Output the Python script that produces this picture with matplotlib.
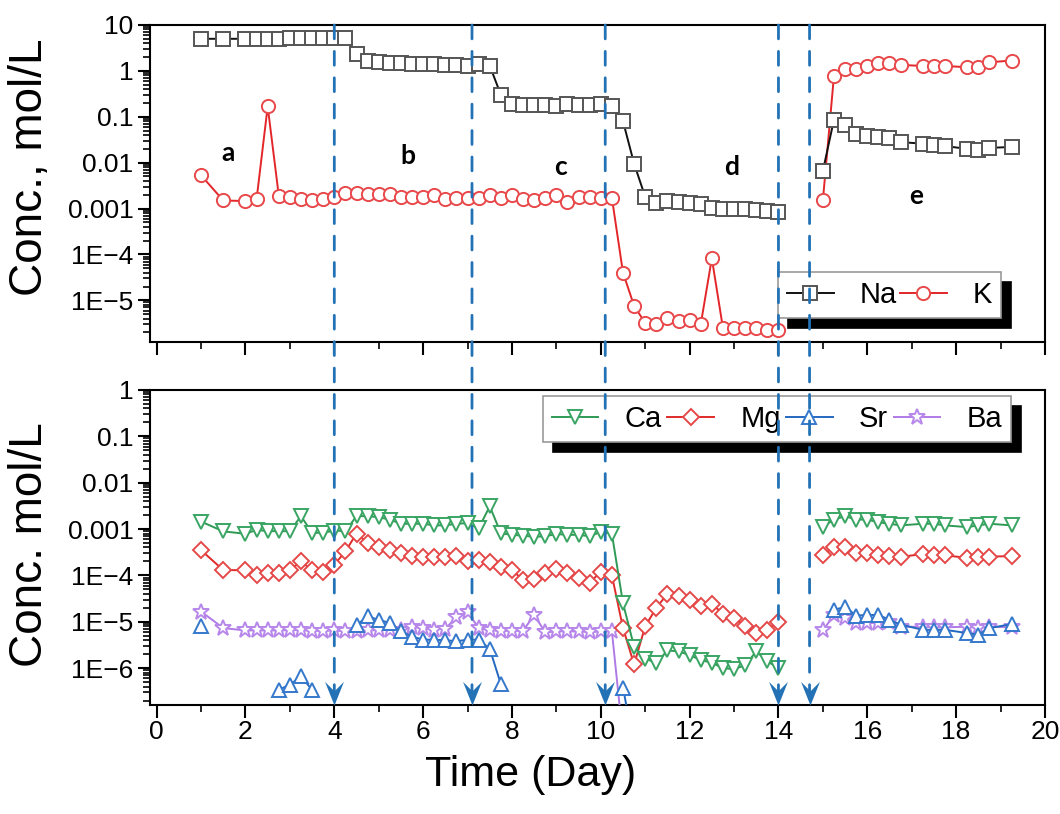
import numpy as np
import matplotlib
matplotlib.use("Agg")
import matplotlib.pyplot as plt
from matplotlib.patches import ConnectionPatch
from matplotlib.path import Path

plt.rcParams["font.family"] = ["Liberation Sans", "DejaVu Sans"]

# sampling days, stages a-d and stage e
days_ad = [1.0, 1.5, 2.0, 2.25, 2.5, 2.75, 3.0, 3.25, 3.5, 3.75, 4.0, 4.25, 4.5,
           4.75, 5.0, 5.25, 5.5, 5.75, 6.0, 6.25, 6.5, 6.75, 7.0, 7.25, 7.5, 7.75,
           8.0, 8.25, 8.5, 8.75, 9.0, 9.25, 9.5, 9.75, 10.0, 10.25, 10.5, 10.75,
           11.0, 11.25, 11.5, 11.75, 12.0, 12.25, 12.5, 12.75, 13.0, 13.25, 13.5,
           13.75, 14.0]
days_e = [15.0, 15.25, 15.5, 15.75, 16.0, 16.25, 16.5, 16.75, 17.25, 17.5, 17.75,
          18.25, 18.5, 18.75, 19.25]

na_ad = [5.0, 5.0, 5.0, 5.0, 5.0, 5.0, 5.1, 5.1, 5.1, 5.1, 5.2, 5.2, 2.3,
         1.65, 1.55, 1.5, 1.45, 1.4, 1.4, 1.38, 1.35, 1.35, 1.3, 1.4, 1.3, 0.30,
         0.19, 0.18, 0.18, 0.18, 0.17, 0.19, 0.18, 0.18, 0.19, 0.17, 0.08, 0.0095,
         0.0018, 0.00134, 0.00144, 0.0014, 0.00134, 0.00123, 0.00105, 0.001, 0.00098,
         0.00097, 0.00094, 0.00089, 0.00085]
na_e = [0.0066, 0.087, 0.065, 0.043, 0.039, 0.037, 0.035, 0.028, 0.026, 0.024,
        0.023, 0.020, 0.019, 0.021, 0.022]

k_ad = [0.0053, 0.0015, 0.00146, 0.0016, 0.168, 0.0019, 0.0018, 0.0016, 0.0015,
        0.0016, 0.0018, 0.0022, 0.0022, 0.0021, 0.0021, 0.0021, 0.0018, 0.0018,
        0.0018, 0.002, 0.0016, 0.0017, 0.0017, 0.0017, 0.002, 0.0017, 0.002,
        0.0016, 0.0015, 0.0017, 0.002, 0.0014, 0.0018, 0.0018, 0.0017, 0.0017,
        4.0e-5, 7.6e-6, 3.2e-6, 3.0e-6, 4.1e-6, 3.6e-6, 3.7e-6, 3.0e-6, 8.2e-5,
        2.5e-6, 2.5e-6, 2.5e-6, 2.5e-6, 2.3e-6, 2.3e-6]
k_e = [0.0015, 0.79, 1.1, 1.1, 1.3, 1.46, 1.46, 1.35, 1.28, 1.28, 1.28, 1.2, 1.2,
       1.54, 1.68]

ca_ad = [0.00145, 0.00089, 0.00079, 0.00096, 0.0009, 0.0009, 0.0009, 0.0019,
         0.00083, 0.00083, 0.00093, 0.0009, 0.0019, 0.0019, 0.0018, 0.0016, 0.0013,
         0.0013, 0.0013, 0.0012, 0.0012, 0.0013, 0.00134, 0.00104, 0.0031, 0.00081,
         0.00075, 0.00072, 0.00068, 0.0007, 0.00078, 0.00075, 0.00075, 0.0007,
         0.00087, 0.00079, 2.5e-5, 2.9e-6, 1.6e-6, 1.3e-6, 2.4e-6, 2.3e-6, 1.9e-6,
         1.5e-6, 1.3e-6, 1.0e-6, 0.95e-6, 1.15e-6, 2.3e-6, 1.4e-6, 1.0e-6]
ca_e = [0.00113, 0.0016, 0.0019, 0.0016, 0.0016, 0.0014, 0.0013, 0.0012, 0.0013,
        0.0013, 0.0012, 0.0011, 0.0012, 0.0013, 0.0012]

mg_ad = [3.5e-4, 1.3e-4, 1.3e-4, 1.0e-4, 1.1e-4, 1.15e-4, 1.3e-4, 2.0e-4, 1.3e-4,
         1.2e-4, 1.7e-4, 3.3e-4, 8.0e-4, 5.0e-4, 4.2e-4, 3.6e-4, 3.0e-4, 2.6e-4,
         2.5e-4, 2.5e-4, 2.5e-4, 2.6e-4, 2.0e-4, 2.2e-4, 1.9e-4, 1.5e-4, 1.3e-4,
         8.0e-5, 8.2e-5, 1.15e-4, 1.4e-4, 1.15e-4, 8.8e-5, 7.0e-5, 1.2e-4, 1.0e-4,
         7.3e-6, 1.2e-6, 8e-6, 2.0e-5, 4e-5, 3.6e-5, 3e-5, 2.2e-5, 2.4e-5, 1.5e-5,
         1.2e-5, 8e-6, 5.8e-6, 6.8e-6, 1.0e-5]
mg_e = [2.8e-4, 4.2e-4, 4.2e-4, 3.1e-4, 3.1e-4, 2.8e-4, 2.6e-4, 2.5e-4, 2.9e-4,
        2.8e-4, 2.7e-4, 2.4e-4, 2.5e-4, 2.55e-4, 2.6e-4]

nan = np.nan
sr_ad = [8e-6, nan, nan, nan, nan, 3.4e-7, 4.4e-7, 6.6e-7, 3.4e-7, nan, nan, nan,
         8.5e-6, 1.3e-5, 1.1e-5, 9.4e-6, 6.2e-6, 4.8e-6, 4.1e-6, 4.1e-6, 4.0e-6,
         3.8e-6, 4.1e-6, 4.1e-6, 2.6e-6, 4.5e-7, nan, nan, nan, nan, nan, nan, nan,
         nan, nan, nan, 3.8e-7, 2e-8, nan, nan, nan, nan, nan, nan, nan, nan, nan,
         nan, nan, nan, nan]
sr_e = [nan, 1.8e-5, 2.1e-5, 1.36e-5, 1.4e-5, 1.4e-5, 1.1e-5, 8.7e-6, 6.7e-6,
        6.7e-6, 6.7e-6, 5.7e-6, 5.3e-6, 7.3e-6, 8.9e-6]

ba_ad = [1.66e-5, 7.3e-6, 6.5e-6, 6.5e-6, 6.5e-6, 6.5e-6, 6.6e-6, 6.6e-6, 6.4e-6,
         6.4e-6, 6.5e-6, 6.2e-6, 6.4e-6, 6.5e-6, 6.6e-6, 6.8e-6, 6.8e-6, 7.6e-6,
         7.4e-6, 6.8e-6, 7.1e-6, 1.25e-5, 1.6e-5, 7.4e-6, 6.5e-6, 6.4e-6, 6.4e-6,
         6.4e-6, 1.4e-5, 5.9e-6, 6.2e-6, 6.2e-6, 6.2e-6, 6.0e-6, 6.2e-6, 6.2e-6,
         3e-8, nan, nan, nan, nan, nan, nan, nan, nan, nan, nan, nan, nan, nan, nan]
ba_e = [6.5e-6, 1.4e-5, 1.2e-5, 9.4e-6, 9.4e-6, 9.4e-6, 9.8e-6, 7.8e-6, 7.8e-6,
        7.6e-6, 7.6e-6, 7.8e-6, 7.4e-6, 7.8e-6, 7.6e-6]

stage_days = [4.0, 7.1, 10.1, 14.0, 14.7]
stage_labels = ["a", "b", "c", "d", "e"]
stage_label_pos = [(1.6, 0.0165), (5.65, 0.014), (9.1, 0.008), (12.95, 0.008), (17.1, 0.0019)]

top_ticks = [10, 1, 0.1, 0.01, 0.001, 1e-4, 1e-5]
top_ticklabels = ["10", "1", "0.1", "0.01", "0.001", "1E\u22124", "1E\u22125"]
bot_ticks = [1, 0.1, 0.01, 0.001, 1e-4, 1e-5, 1e-6]
bot_ticklabels = ["1", "0.1", "0.01", "0.001", "1E\u22124", "1E\u22125", "1E\u22126"]

dash_color = "#2372b5"

fig = plt.figure(figsize=(10.6, 8.14), dpi=100)
ax1 = fig.add_axes([0.1415, 0.5799, 0.8443, 0.3894])
ax2 = fig.add_axes([0.1415, 0.1339, 0.8443, 0.3870])


def plot_series(ax, y_ad, y_e, label, color, mec, marker, ms, zo):
    style = dict(color=color, marker=marker, ms=ms, mfc="white", mec=mec,
                 mew=1.4, lw=1.4, zorder=zo)
    ax.plot(days_ad, y_ad, label=label, **style)
    ax.plot(days_e, y_e, **style)


plot_series(ax1, k_ad, k_e, "K", "#e3262a", "#e8484a", "o", 9.5, 3)
plot_series(ax1, na_ad, na_e, "Na", "#111111", "#555555", "s", 9.5, 4)

plot_series(ax2, ba_ad, ba_e, "Ba", "#b07ae6", "#b787ea", "*", 12, 3)
plot_series(ax2, sr_ad, sr_e, "Sr", "#2468c0", "#3578cc", "^", 10, 4)
plot_series(ax2, mg_ad, mg_e, "Mg", "#e02a2a", "#e44848", "D", 8.5, 5)
plot_series(ax2, ca_ad, ca_e, "Ca", "#2e9a55", "#3aa563", "v", 10, 6)

for ax, ylim, ticks, labels in [(ax1, (1.24e-6, 10), top_ticks, top_ticklabels),
                                (ax2, (1.6e-7, 1), bot_ticks, bot_ticklabels)]:
    ax.set_yscale("log")
    ax.set_ylim(*ylim)
    ax.set_xlim(-0.15, 20)
    ax.set_yticks(ticks)
    ax.set_yticklabels(labels)
    ax.set_xticks([0, 2, 4, 6, 8, 10, 12, 14, 16, 18, 20])
    ax.set_xticks(range(0, 21), minor=True)
    ax.tick_params(axis="both", which="major", direction="out", length=9, width=1.5,
                   colors="black")
    ax.tick_params(axis="y", which="major", labelsize=19, pad=3)
    ax.tick_params(axis="x", which="major", labelsize=19, pad=2)
    ax.tick_params(axis="both", which="minor", direction="out", length=5, width=1.2)
    ax.yaxis.set_minor_locator(matplotlib.ticker.LogLocator(base=10, subs=np.arange(2, 10), numticks=20))
    ax.yaxis.set_minor_formatter(matplotlib.ticker.NullFormatter())
    for sp in ax.spines.values():
        sp.set_linewidth(1.5)

ax1.tick_params(axis="x", labelbottom=False)

ax1.set_ylabel("Conc., mol/L", fontsize=33)
ax1.yaxis.set_label_coords(-0.11, 0.55)
ax2.set_ylabel("Conc. mol/L", fontsize=33)
ax2.yaxis.set_label_coords(-0.11, 0.51)
ax2.set_xlabel("Time (Day)", fontsize=31)
ax2.xaxis.set_label_coords(0.425, -0.16)

for (xp, yp), txt in zip(stage_label_pos, stage_labels):
    ax1.text(xp, yp, txt, fontsize=19, fontweight="bold", family="Lato",
             ha="center", va="center")

# notched arrow head pointing down, tip at (0, 0)
head = Path([(0, 0), (-0.4, 1), (0, 0.6), (0.4, 1), (0, 0)],
            [Path.MOVETO, Path.LINETO, Path.LINETO, Path.LINETO, Path.CLOSEPOLY])

# dashed stage boundaries running through both panels
for xv in stage_days:
    con = ConnectionPatch(xyA=(xv, 10), coordsA=ax1.transData,
                          xyB=(xv, 1.6e-7), coordsB=ax2.transData,
                          color=dash_color, lw=2, linestyle=(0, (5, 4.5)), zorder=3)
    fig.add_artist(con)
    ax2.plot([xv], [1.6e-7], marker=head, ms=34, color=dash_color, mew=0,
             clip_on=False, zorder=7)

shadow = {"ox": 7, "oy": -7, "color": "black", "alpha": 1}
h, l = ax1.get_legend_handles_labels()
leg1 = ax1.legend(h[::-1], l[::-1], loc="lower left", bbox_to_anchor=(0.702, 0.076, 0.249, 0.129),
                  mode="expand", ncol=2, fontsize=21, frameon=True, fancybox=False,
                  edgecolor="#999999", framealpha=1, shadow=shadow, handlelength=1.6,
                  borderpad=0.3, columnspacing=0.8, handletextpad=0.9, borderaxespad=0)
leg1.get_frame().set_linewidth(1.2)

h, l = ax2.get_legend_handles_labels()
leg2 = ax2.legend(h[::-1], l[::-1], loc="lower left", bbox_to_anchor=(0.439, 0.835, 0.523, 0.133),
                  mode="expand", ncol=4, fontsize=21, frameon=True, fancybox=False,
                  edgecolor="#999999", framealpha=1, shadow=shadow, handlelength=1.6,
                  borderpad=0.3, columnspacing=0.8, handletextpad=0.9, borderaxespad=0)
leg2.get_frame().set_linewidth(1.2)

fig.savefig("out.png", dpi=100)
